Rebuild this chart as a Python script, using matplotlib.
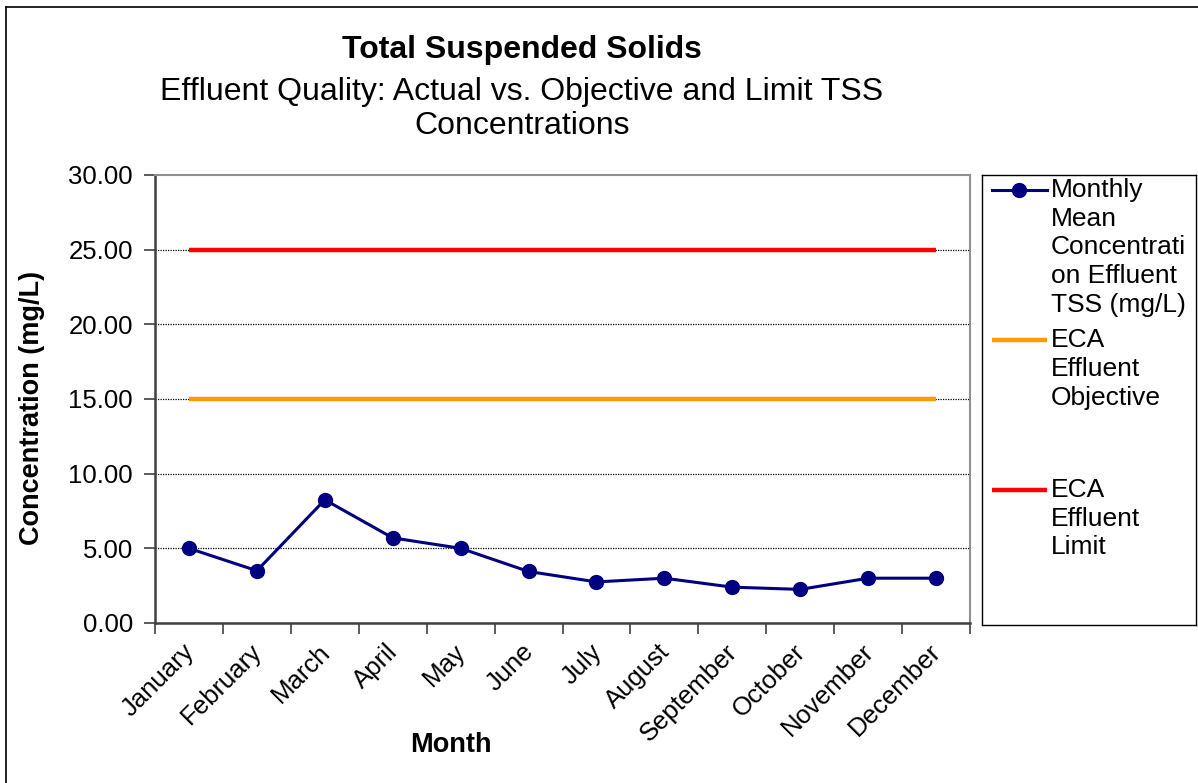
import matplotlib.pyplot as plt
import matplotlib.transforms as mtransforms
from matplotlib.lines import Line2D

plt.rcParams['font.family'] = ['Liberation Sans', 'DejaVu Sans']

months = ['January', 'February', 'March', 'April', 'May', 'June', 'July',
          'August', 'September', 'October', 'November', 'December']
tss = [5.0, 3.5, 8.25, 5.7, 5.0, 3.45, 2.75, 3.0, 2.4, 2.25, 3.0, 3.0]
objective = [15.0] * 12
limit = [25.0] * 12

lbl_tss = 'Monthly\nMean\nConcentrati\non Effluent\nTSS (mg/L)'
lbl_obj = 'ECA\nEffluent\nObjective'
lbl_lim = 'ECA\nEffluent\nLimit'

W, H = 1198, 783
fig = plt.figure(figsize=(W / 100, H / 100), dpi=100)

# outer chart border (top and left visible)
fig.add_artist(Line2D([6 / W, 1], [1 - 7 / H, 1 - 7 / H], color='black', lw=1.2))
fig.add_artist(Line2D([6 / W, 6 / W], [0, 1 - 7 / H], color='black', lw=1.2))

ax = fig.add_axes([155 / W, 1 - 623 / H, (970 - 155) / W, (623 - 175) / H])
x = list(range(len(months)))

ax.plot(x, limit, color='#FF0000', lw=3.2, solid_capstyle='butt', zorder=3)
ax.plot(x, objective, color='#FF9900', lw=3.2, solid_capstyle='butt', zorder=3)
ax.plot(x, tss, color='#000080', lw=2.2, marker='o', ms=10, zorder=4)

ax.set_xlim(-0.5, len(months) - 0.5)
ax.set_ylim(0, 30)
ax.set_yticks([0, 5, 10, 15, 20, 25, 30])
ax.set_yticklabels(['%.2f' % v for v in [0, 5, 10, 15, 20, 25, 30]], fontsize=18.5)
for v in [5, 10, 15, 20, 25]:
    ax.axhline(v, color='black', lw=0.9, ls=(0, (1, 1)), zorder=1)

ax.set_xticks([i - 0.5 for i in range(len(months) + 1)])
ax.set_xticklabels([])
ax.set_xticks(x, minor=True)
ax.set_xticklabels(months, minor=True, rotation=45, ha='right',
                   rotation_mode='anchor', fontsize=18.5)
ax.tick_params(axis='x', which='minor', length=0, pad=12)
ax.tick_params(axis='both', which='major', length=8, width=1.2, color='#404040')
ax.tick_params(axis='y', pad=8)
shift = mtransforms.ScaledTranslation(-7 / 100, 0, fig.dpi_scale_trans)
for t in ax.xaxis.get_minorticklabels():
    t.set_transform(t.get_transform() + shift)

for s in ['left', 'bottom']:
    ax.spines[s].set_color('#404040')
    ax.spines[s].set_linewidth(1.8)
for s in ['top', 'right']:
    ax.spines[s].set_color('#909090')
    ax.spines[s].set_linewidth(1.5)

ax.set_xlabel('Month', fontsize=19.5, fontweight='bold', va='center')
ax.xaxis.set_label_coords((451 - 155) / 815, (623 - 745) / 448)
ax.set_ylabel('Concentration (mg/L)', fontsize=19.5, fontweight='bold', va='center')
ax.yaxis.set_label_coords((32 - 155) / 815, (623 - 408) / 448)

fig.text(522 / W, 1 - 50 / H, 'Total Suspended Solids', fontsize=23,
         fontweight='bold', ha='center', va='center')
fig.text(522 / W, 1 - 109 / H,
         'Effluent Quality: Actual vs. Objective and Limit TSS\nConcentrations',
         fontsize=23, ha='center', va='center', linespacing=1.2)

# legend box
lg = fig.add_axes([982 / W, 1 - 625 / H, (1196 - 982) / W, (625 - 175) / H])
lg.set_xlim(982, 1196)
lg.set_ylim(625, 175)
lg.set_xticks([])
lg.set_yticks([])
for s in lg.spines.values():
    s.set_color('black')
    s.set_linewidth(1.0)
entries = [(lbl_tss, dict(color='#000080', lw=2.2), 190, True),
           (lbl_obj, dict(color='#FF9900', lw=3.2, solid_capstyle='butt'), 340, False),
           (lbl_lim, dict(color='#FF0000', lw=3.2, solid_capstyle='butt'), 490, False)]
for text, style, yy, mk in entries:
    lg.plot([992, 1047], [yy, yy], **style)
    if mk:
        lg.plot([1019], [yy], color=style['color'], marker='o', ms=10)
    lg.text(1051, yy - 12, text, fontsize=19, ha='left', va='top', linespacing=1.25)

fig.savefig('out.png', dpi=100)
